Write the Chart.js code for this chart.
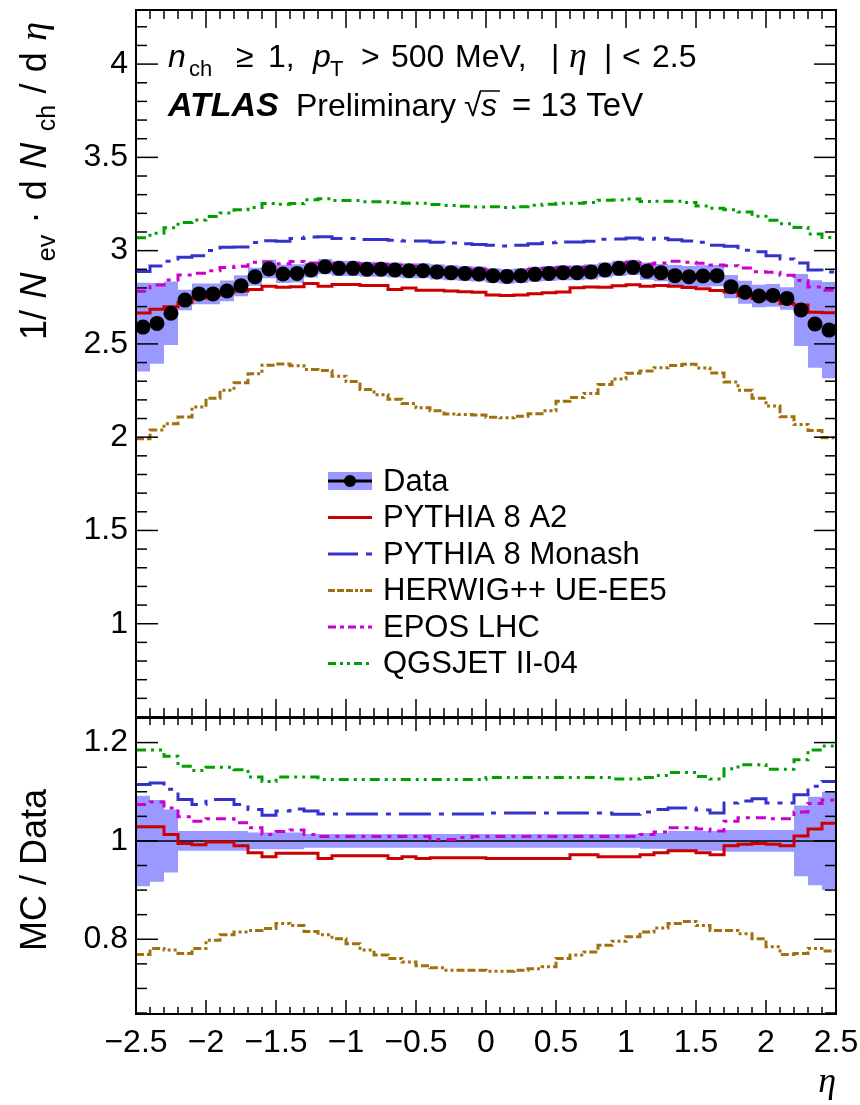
<!DOCTYPE html>
<html>
<head>
<meta charset="utf-8">
<script src="https://cdn.jsdelivr.net/npm/chart.js@4.4.1/dist/chart.umd.min.js"></script>
<style>
html,body{margin:0;padding:0;background:#fff;width:860px;height:1105px;overflow:hidden}
#top{position:absolute;left:0;top:0;width:860px;height:718px}
#bot{position:absolute;left:0;top:717px;width:860px;height:388px}
canvas{display:block}
</style>
</head>
<body>
<div id="top"><canvas id="c1" width="860" height="718"></canvas></div>
<div id="bot"><canvas id="c2" width="860" height="388"></canvas></div>
<script>
// ---------------- data ----------------
const etaEdges = [-2.5,-2.4,-2.3,-2.2,-2.1,-2.0,-1.9,-1.8,-1.7,-1.6,-1.5,-1.4,-1.3,-1.2,-1.1,-1.0,-0.9,-0.8,-0.7,-0.6,-0.5,-0.4,-0.3,-0.2,-0.1,0.0,0.1,0.2,0.3,0.4,0.5,0.6,0.7,0.8,0.9,1.0,1.1,1.2,1.3,1.4,1.5,1.6,1.7,1.8,1.9,2.0,2.1,2.2,2.3,2.4,2.5];

const dataVals = [2.590,2.610,2.664,2.735,2.768,2.768,2.784,2.812,2.860,2.902,
                  2.875,2.878,2.896,2.914,2.905,2.905,2.900,2.900,2.896,2.892,
                  2.892,2.886,2.882,2.878,2.875,2.866,2.862,2.866,2.873,2.878,
                  2.882,2.882,2.886,2.896,2.905,2.910,2.890,2.882,2.866,2.860,
                  2.864,2.866,2.807,2.777,2.757,2.760,2.744,2.682,2.607,2.574];

// relative systematic uncertainty of the data, in percent
const dataErrPct = [9.2,8.3,6.4,2.0,2.0,2.0,2.0,2.0,1.7,1.7,1.7,1.7,
                    1.4,1.4,1.4,1.4,1.4,1.4,1.4,1.4,1.4,1.4,1.4,1.4,
                    1.4,1.4,1.4,1.4,1.4,1.4,1.4,1.4,1.4,1.4,1.4,1.4,
                    1.6,1.6,2.0,2.0,2.0,2.0,2.2,2.2,2.2,2.2,2.2,7.2,9.0,10.0];

// MC / Data ratios
const ratioA2 = [1.029,1.029,1.013,0.995,0.992,0.998,0.998,0.990,0.976,0.968,
                 0.975,0.975,0.975,0.964,0.970,0.970,0.970,0.970,0.964,0.968,
                 0.964,0.966,0.966,0.966,0.966,0.964,0.964,0.964,0.964,0.964,
                 0.964,0.972,0.972,0.968,0.968,0.968,0.972,0.976,0.980,0.980,
                 0.976,0.972,0.990,0.993,0.995,0.993,0.990,1.010,1.024,1.036];
const ratioMonash = [1.115,1.118,1.105,1.084,1.074,1.084,1.084,1.074,1.064,1.052,
                     1.061,1.065,1.061,1.055,1.055,1.055,1.055,1.055,1.055,1.055,
                     1.055,1.055,1.055,1.055,1.055,1.057,1.057,1.057,1.057,1.057,
                     1.057,1.057,1.057,1.057,1.054,1.054,1.059,1.064,1.067,1.067,
                     1.063,1.057,1.077,1.081,1.086,1.077,1.077,1.094,1.111,1.121];
const ratioHerwig = [0.769,0.781,0.778,0.771,0.781,0.798,0.809,0.815,0.818,0.822,
                     0.832,0.828,0.816,0.809,0.801,0.791,0.778,0.768,0.761,0.754,
                     0.746,0.742,0.737,0.737,0.737,0.735,0.735,0.737,0.740,0.744,
                     0.761,0.768,0.774,0.788,0.796,0.805,0.815,0.823,0.832,0.836,
                     0.828,0.818,0.818,0.811,0.801,0.785,0.769,0.771,0.781,0.776];
const ratioEpos = [1.074,1.079,1.067,1.049,1.040,1.045,1.045,1.037,1.027,1.013,
                   1.019,1.022,1.013,1.009,1.009,1.009,1.009,1.009,1.009,1.009,
                   1.009,1.003,1.003,1.007,1.009,1.009,1.009,1.009,1.009,1.009,
                   1.009,1.009,1.009,1.009,1.009,1.009,1.013,1.018,1.027,1.027,
                   1.024,1.020,1.040,1.047,1.047,1.045,1.045,1.059,1.076,1.083];
const ratioQgsjet = [1.185,1.185,1.172,1.152,1.143,1.150,1.150,1.145,1.130,1.121,
                     1.130,1.130,1.130,1.125,1.125,1.125,1.125,1.125,1.125,1.125,
                     1.125,1.125,1.125,1.125,1.125,1.129,1.129,1.129,1.129,1.129,
                     1.129,1.129,1.129,1.129,1.126,1.126,1.129,1.133,1.139,1.139,
                     1.131,1.126,1.147,1.155,1.155,1.146,1.146,1.165,1.185,1.193];

const seriesNames = ['Data','PYTHIA 8 A2','PYTHIA 8 Monash','HERWIG++ UE-EE5','EPOS LHC','QGSJET II-04'];
const xTickValues = [-2.5,-2,-1.5,-1,-0.5,0,0.5,1,1.5,2,2.5];

// ---------------- styles ----------------
const F  = '"Liberation Sans", Arial, Helvetica, sans-serif';
const FS = '"Liberation Serif", "Times New Roman", serif';
const BAND = '#9999ff';
const mcStyles = [
  {name: seriesNames[1], ratio: ratioA2,     color:'#cc0000', dash:[]},
  {name: seriesNames[2], ratio: ratioMonash, color:'#3333cc', dash:[32,8,5,8]},
  {name: seriesNames[3], ratio: ratioHerwig, color:'#a0700f', dash:[8,3,8,3,8,3,3,3,3,3,3,3]},
  {name: seriesNames[4], ratio: ratioEpos,   color:'#cc00cc', dash:[10,6,4,6]},
  {name: seriesNames[5], ratio: ratioQgsjet, color:'#00a000', dash:[10,5,3,5,3,5]}
];

// ---------------- helpers ----------------
function histPts(vals){
  const p = vals.map((v,i)=>({x:etaEdges[i], y:v}));
  p.push({x:etaEdges[vals.length], y:vals[vals.length-1]});
  return p;
}
const fmt = v => { const a = Math.round(Math.abs(v)*100)/100; return (v < -1e-9 ? '\u2212' : '') + String(a); };

const dataErrAbs = dataVals.map((v,i)=> v*dataErrPct[i]/100);
const centers = dataVals.map((v,i)=>({x:(etaEdges[i]+etaEdges[i+1])/2, y:v}));

function mcLine(vals, st, order){
  return {data: histPts(vals), borderColor: st.color, borderWidth: 3, borderDash: st.dash,
          stepped: true, pointRadius: 0, fill: false, order: order, borderCapStyle:'butt', borderJoinStyle:'miter'};
}

function line(ctx,x1,y1,x2,y2){ ctx.beginPath(); ctx.moveTo(x1,y1); ctx.lineTo(x2,y2); ctx.stroke(); }

function drawFrame(chart, cfg){
  const {ctx, chartArea:a} = chart;
  const xs = chart.scales.x, ys = chart.scales.y;
  ctx.save();
  ctx.strokeStyle = '#000'; ctx.lineWidth = 1.5;
  for (let k = -25; k <= 25; k++){
    const px = xs.getPixelForValue(k/10);
    const major = (k % 5 === 0);
    const lt = major ? cfg.xMajT : cfg.xMinT;
    const lb = major ? cfg.xMajB : cfg.xMinB;
    line(ctx, px, a.top, px, a.top + lt);
    line(ctx, px, a.bottom, px, a.bottom - lb);
  }
  for (let k = cfg.yK0; k <= cfg.yK1; k++){
    const v = k*cfg.yStep;
    const py = ys.getPixelForValue(v);
    if (py < a.top - 0.5 || py > a.bottom + 0.5) continue;
    const major = (k % cfg.yMajEvery === 0);
    const L = major ? cfg.yMaj : cfg.yMin;
    line(ctx, a.left, py, a.left + L, py);
    line(ctx, a.right, py, a.right - L, py);
  }
  ctx.lineWidth = 2;
  ctx.strokeRect(a.left, a.top, a.right - a.left, a.bottom - a.top);
  ctx.restore();
}

function drawSegsAt(ctx, segs, y){
  for (const s of segs){ ctx.font = s.f; ctx.fillText(s.t, s.x, y + (s.dy||0)); }
}

function drawRotated(ctx, segs, xBase, yCenter, target){
  ctx.save();
  let w = 0;
  for (const s of segs){ ctx.font = s.f; w += ctx.measureText(s.t).width + (s.g||0); }
  const n = segs.length;
  const extra = (target && n > 1) ? Math.max(0,(target - w)/(n-1)) : 0;
  const total = w + extra*(n-1);
  ctx.translate(xBase, yCenter + total/2);
  ctx.rotate(-Math.PI/2);
  ctx.textAlign = 'left'; ctx.textBaseline = 'alphabetic'; ctx.fillStyle = '#000';
  let u = 0;
  for (const s of segs){ ctx.font = s.f; u += (s.g||0); ctx.fillText(s.t, u, s.dy||0); u += ctx.measureText(s.t).width + extra; }
  ctx.restore();
}

// ---------------- top panel ----------------
const topDatasets = [
  {data: centers, showLine:false, pointRadius:7.5, pointHoverRadius:7.5, pointBackgroundColor:'#000', pointBorderColor:'#000', pointBorderWidth:0, order:0},
  {data: histPts(dataVals.map((v,i)=>v-dataErrAbs[i])), borderColor:'rgba(0,0,0,0)', borderWidth:0, pointRadius:0, stepped:true, fill:false, order:20},
  {data: histPts(dataVals.map((v,i)=>v+dataErrAbs[i])), borderColor:'rgba(0,0,0,0)', borderWidth:0, pointRadius:0, stepped:true, fill:'-1', backgroundColor:BAND, order:19}
];
mcStyles.forEach((st,k)=>{
  topDatasets.push(mcLine(dataVals.map((d,i)=>d*st.ratio[i]), st, 5-k));
});

const topPlugin = {
  id:'topDeco',
  afterDatasetsDraw(chart){
    drawFrame(chart, {xMajT:18, xMinT:9, xMajB:18, xMinB:9, yK0:5, yK1:43, yStep:0.1, yMajEvery:5, yMaj:22, yMin:11});
  },
  afterDraw(chart){
    const ctx = chart.ctx;
    ctx.save();
    ctx.fillStyle = '#000'; ctx.textAlign = 'left'; ctx.textBaseline = 'alphabetic';
    const N = '32px ' + F, I = 'italic 32px ' + F, S = '22px ' + F, E = 'italic 36px ' + FS;
    // line 1
    drawSegsAt(ctx, [
      {t:'n', f:I, x:168}, {t:'ch', f:S, x:189, dy:9},
      {t:'\u2265', f:N, x:236}, {t:'1,', f:N, x:268},
      {t:'p', f:I, x:313}, {t:'T', f:S, x:330, dy:9},
      {t:'>', f:N, x:361}, {t:'500', f:N, x:391}, {t:'MeV,', f:N, x:455},
      {t:'|', f:N, x:551}, {t:'\u03b7', f:E, x:569}, {t:'|', f:N, x:604},
      {t:'<', f:N, x:622}, {t:'2.5', f:N, x:652}
    ], 67);
    // line 2
    drawSegsAt(ctx, [
      {t:'ATLAS', f:'italic bold 34px ' + F, x:168},
      {t:'Preliminary', f:N, x:296},
      {t:'\u221a', f:N, x:464}, {t:'s', f:I, x:481},
      {t:'= 13 TeV', f:'33px ' + F, x:512}
    ], 116);
    ctx.strokeStyle = '#000'; ctx.lineWidth = 1.5;
    line(ctx, 480, 91, 500, 91);

    // legend
    const lx0 = 328, lx1 = 372, tx = 383;
    const ly = [481, 517.5, 554, 590.5, 627, 663.5];
    ctx.font = '31px ' + F;
    ctx.textBaseline = 'middle';
    ctx.fillStyle = '#000';
    for (let i = 0; i < seriesNames.length; i++) ctx.fillText(seriesNames[i], tx, ly[i] + 1);
    // data entry
    ctx.fillStyle = BAND; ctx.fillRect(lx0, ly[0]-9, lx1-lx0, 18);
    ctx.strokeStyle = '#000'; ctx.lineWidth = 3; line(ctx, lx0, ly[0], lx1, ly[0]);
    ctx.fillStyle = '#000'; ctx.beginPath(); ctx.arc((lx0+lx1)/2, ly[0], 6, 0, 2*Math.PI); ctx.fill();
    const legDash = [[], [30,8,6,0], [7,2,7,2,7,2,3,2,3,2], [8,4,4,4], [8,4,3,4,3,4]];
    mcStyles.forEach((st,k)=>{
      ctx.strokeStyle = st.color; ctx.lineWidth = 3; ctx.setLineDash(legDash[k]); ctx.lineCap = 'butt';
      line(ctx, lx0, ly[k+1], lx1, ly[k+1]);
    });
    ctx.setLineDash([]);
    ctx.restore();

    // y title
    const YN = '36px ' + F, YI = 'italic 36px ' + F, YS = '25px ' + F, YE = 'italic 38px ' + FS;
    drawRotated(ctx, [
      {t:'1/', f:YN}, {t:'N', f:YI}, {t:'ev', f:YS, dy:9}, {t:'\u00b7', f:YN}, {t:'d', f:YN},
      {t:'N', f:YI}, {t:'ch', f:YS, dy:9}, {t:'/', f:YN}, {t:'d', f:YN}, {t:'\u03b7', f:YE}
    ], 46, 181, 318);
  }
};

new Chart(document.getElementById('c1'), {
  type: 'line',
  data: { datasets: topDatasets },
  options: {
    responsive: false, animation: false, events: [],
    layout: { padding: { left: 0, right: 24, top: 10, bottom: 1 }, autoPadding: false },
    plugins: { legend: {display:false}, tooltip: {enabled:false} },
    scales: {
      x: { type:'linear', min:-2.5, max:2.5, display:false },
      y: { type:'linear', min:0.5, max:4.29,
           afterFit: s => { s.width = 136; s.paddingTop = 0; s.paddingBottom = 0; },
           grid:{display:false, drawTicks:false}, border:{display:false},
           ticks:{ stepSize:0.5, includeBounds:false, padding:8, color:'#000',
                   font:{family:F, size:32}, callback: v => (v < 0.99 ? '' : fmt(v)) } }
    }
  },
  plugins: [topPlugin]
});

// ---------------- ratio panel ----------------
const botDatasets = [
  {data: histPts(dataErrPct.map(p=>1-p/100)), borderColor:'rgba(0,0,0,0)', borderWidth:0, pointRadius:0, stepped:true, fill:false, order:20},
  {data: histPts(dataErrPct.map(p=>1+p/100)), borderColor:'rgba(0,0,0,0)', borderWidth:0, pointRadius:0, stepped:true, fill:'-1', backgroundColor:BAND, order:19},
  {data: [{x:-2.5,y:1},{x:2.5,y:1}], borderColor:'#000', borderWidth:1.5, pointRadius:0, fill:false, order:8}
];
mcStyles.forEach((st,k)=>{ botDatasets.push(mcLine(st.ratio, st, 5-k)); });

const botPlugin = {
  id:'botDeco',
  afterDatasetsDraw(chart){
    drawFrame(chart, {xMajT:13, xMinT:7, xMajB:14, xMinB:7, yK0:13, yK1:25, yStep:0.05, yMajEvery:4, yMaj:22, yMin:11});
  },
  afterDraw(chart){
    const ctx = chart.ctx;
    drawRotated(ctx, [{t:'MC / Data', f:'36px ' + F}], 46, 870 - 717, 0);
    ctx.save();
    ctx.fillStyle = '#000'; ctx.textAlign = 'right'; ctx.textBaseline = 'alphabetic';
    ctx.font = 'italic 36px ' + FS;
    ctx.fillText('\u03b7', 836, 1092 - 717);
    ctx.restore();
  }
};

new Chart(document.getElementById('c2'), {
  type: 'line',
  data: { datasets: botDatasets },
  options: {
    responsive: false, animation: false, events: [],
    layout: { padding: { left: 0, right: 24, top: 1, bottom: 0 }, autoPadding: false },
    plugins: { legend: {display:false}, tooltip: {enabled:false} },
    scales: {
      x: { type:'linear', min:-2.5, max:2.5, position:'bottom',
           afterFit: s => { s.height = 91; s.paddingLeft = 0; s.paddingRight = 0; },
           afterBuildTicks: s => { s.ticks = xTickValues.map(v => ({value:v})); },
           grid:{display:false, drawTicks:false}, border:{display:false},
           ticks:{ padding:10, color:'#000', font:{family:F, size:32}, maxRotation:0, minRotation:0,
                   autoSkip:false, callback: fmt } },
      y: { type:'linear', min:0.648, max:1.25,
           afterFit: s => { s.width = 136; s.paddingTop = 0; s.paddingBottom = 0; },
           grid:{display:false, drawTicks:false}, border:{display:false},
           ticks:{ stepSize:0.2, includeBounds:false, padding:8, color:'#000',
                   font:{family:F, size:32}, callback: fmt } }
    }
  },
  plugins: [botPlugin]
});
</script>
</body>
</html>
